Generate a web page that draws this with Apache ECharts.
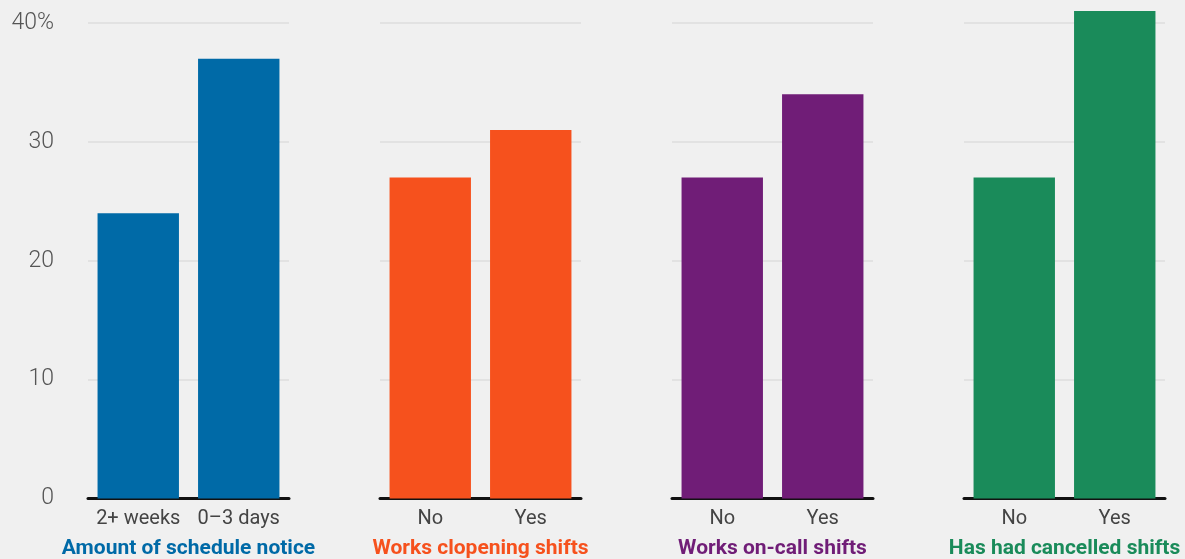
<!DOCTYPE html>
<html><head><meta charset="utf-8">
<script src="https://cdn.jsdelivr.net/npm/echarts@6/dist/echarts.min.js"></script>
<style>html,body{margin:0;padding:0;background:#f0f0f0;}#c{width:1185px;height:559px;}</style>
</head><body><div id="c"></div>
<script>
const panelTitles = ["Amount of schedule notice","Works clopening shifts","Works on-call shifts","Has had cancelled shifts"];
const panelCategories = [["2+ weeks","0–3 days"],["No","Yes"],["No","Yes"],["No","Yes"]];
const panelValues = [[24,37],[27,31],[27,34],[27,41]];
const panelColors = ["#006aa7","#f6511d","#701d77","#1a8b5a"];
const yTicks = [0,10,20,30,40];

const chart = echarts.init(document.getElementById('c'));
const grids=[],xAxes=[],yAxes=[],series=[];
for(let i=0;i<4;i++){
  grids.push({left:88+292*i,width:201,top:23,height:475.5,containLabel:false,outerBoundsMode:'none'});
  xAxes.push({type:'category',gridIndex:i,data:panelCategories[i],
    axisLine:{show:true,lineStyle:{color:'#111',width:3}},axisTick:{show:false},
    axisLabel:{color:'#444',fontSize:20,fontFamily:'Roboto',margin:10,interval:0,hideOverlap:false},
    name:panelTitles[i],nameLocation:'middle',nameGap:40,
    nameTextStyle:{color:panelColors[i],fontSize:21,fontWeight:'bold',fontFamily:'Roboto'}});
  yAxes.push({type:'value',gridIndex:i,min:yTicks[0],max:yTicks[yTicks.length-1],interval:10,
    axisLine:{show:false},axisTick:{show:false},
    splitLine:{show:true,lineStyle:{color:'#e2e2e2',width:2}},
    axisLabel:{show:i===0,color:'#555',fontSize:23,fontFamily:'Roboto',fontWeight:300,margin:34,
      formatter:v=>v===40?'40%':String(v)}});
  series.push({type:'bar',xAxisIndex:i,yAxisIndex:i,data:panelValues[i],clip:false,
    barCategoryGap:'19%',itemStyle:{color:panelColors[i]},silent:true,z:1});
}
chart.setOption({backgroundColor:'#f0f0f0',animation:false,grid:grids,xAxis:xAxes,yAxis:yAxes,series:series});
</script></body></html>
